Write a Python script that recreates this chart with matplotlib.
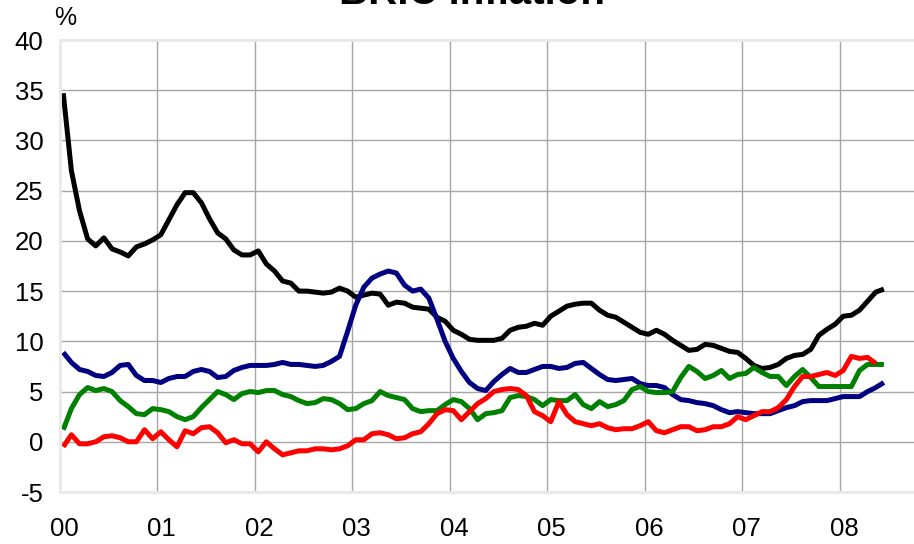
import matplotlib
matplotlib.use('Agg')
import numpy as np
import matplotlib.pyplot as plt

plt.rcParams['font.family'] = ['Liberation Sans', 'DejaVu Sans']
plt.rcParams['axes.unicode_minus'] = False

# monthly year-on-year CPI, Jan 2000 onwards
years = ['00', '01', '02', '03', '04', '05', '06', '07', '08']

russia = [34.7, 27.0, 23.0, 20.2, 19.5, 20.3, 19.2, 18.9, 18.5, 19.4,
          19.7, 20.1, 20.6, 22.1, 23.6, 24.8, 24.8, 23.8, 22.2, 20.8,
          20.2, 19.1, 18.6, 18.6, 19.0, 17.7, 17.0, 16.0, 15.8, 15.0,
          15.0, 14.9, 14.8, 14.9, 15.3, 15.0, 14.4, 14.6, 14.8, 14.7,
          13.6, 13.9, 13.8, 13.4, 13.3, 13.2, 12.4, 12.0, 11.1, 10.7,
          10.2, 10.1, 10.1, 10.1, 10.3, 11.1, 11.4, 11.5, 11.8, 11.6,
          12.5, 13.0, 13.5, 13.7, 13.8, 13.8, 13.1, 12.6, 12.4, 11.9,
          11.4, 10.9, 10.7, 11.1, 10.7, 10.1, 9.6, 9.1, 9.2, 9.7,
          9.6, 9.3, 9.0, 8.9, 8.3, 7.6, 7.3, 7.4, 7.7, 8.3,
          8.6, 8.7, 9.2, 10.6, 11.2, 11.7, 12.5, 12.6, 13.1, 14.0,
          14.9, 15.2]

brazil = [8.9, 7.9, 7.2, 7.0, 6.6, 6.5, 6.9, 7.6, 7.7, 6.6,
          6.1, 6.1, 5.9, 6.3, 6.5, 6.5, 7.0, 7.2, 7.0, 6.4,
          6.5, 7.1, 7.4, 7.6, 7.6, 7.6, 7.7, 7.9, 7.7, 7.7,
          7.6, 7.5, 7.6, 8.0, 8.5, 11.0, 13.6, 15.4, 16.3, 16.7,
          17.0, 16.8, 15.6, 15.0, 15.2, 14.3, 12.2, 10.0, 8.3, 7.0,
          5.9, 5.3, 5.1, 6.0, 6.7, 7.3, 6.9, 6.9, 7.2, 7.5,
          7.5, 7.3, 7.4, 7.8, 7.9, 7.3, 6.7, 6.2, 6.1, 6.2,
          6.3, 5.8, 5.6, 5.6, 5.4, 4.7, 4.2, 4.1, 3.9, 3.8,
          3.6, 3.2, 2.9, 3.0, 2.9, 2.8, 2.8, 2.8, 3.1, 3.4,
          3.6, 4.0, 4.1, 4.1, 4.1, 4.3, 4.5, 4.5, 4.5, 5.0,
          5.4, 5.9]

india = [1.2, 3.3, 4.7, 5.4, 5.1, 5.3, 5.0, 4.1, 3.5, 2.8,
         2.7, 3.3, 3.2, 3.0, 2.5, 2.2, 2.5, 3.4, 4.2, 5.0,
         4.7, 4.2, 4.8, 5.0, 4.9, 5.1, 5.1, 4.7, 4.5, 4.1,
         3.8, 3.9, 4.3, 4.2, 3.8, 3.2, 3.3, 3.8, 4.1, 5.0,
         4.6, 4.4, 4.2, 3.3, 3.0, 3.1, 3.1, 3.7, 4.2, 4.0,
         3.3, 2.2, 2.8, 2.9, 3.1, 4.4, 4.6, 4.5, 4.2, 3.6,
         4.2, 4.1, 4.1, 4.7, 3.7, 3.3, 4.0, 3.5, 3.7, 4.1,
         5.2, 5.5, 5.0, 4.9, 4.9, 5.0, 6.4, 7.5, 7.0, 6.3,
         6.6, 7.1, 6.3, 6.7, 6.8, 7.4, 6.9, 6.5, 6.5, 5.6,
         6.5, 7.2, 6.4, 5.5, 5.5, 5.5, 5.5, 5.5, 7.1, 7.7,
         7.7, 7.7]

china = [-0.5, 0.7, -0.2, -0.2, 0.0, 0.5, 0.6, 0.4, 0.0, 0.0,
         1.2, 0.3, 1.0, 0.2, -0.5, 1.1, 0.8, 1.4, 1.5, 0.9,
         -0.1, 0.2, -0.2, -0.2, -1.0, 0.0, -0.7, -1.3, -1.1, -0.9,
         -0.9, -0.7, -0.7, -0.8, -0.7, -0.4, 0.2, 0.2, 0.8, 0.9,
         0.7, 0.3, 0.4, 0.8, 1.0, 1.8, 2.8, 3.2, 3.1, 2.2,
         3.0, 3.8, 4.3, 5.0, 5.2, 5.3, 5.2, 4.6, 3.0, 2.6,
         2.0, 4.0, 2.7, 2.0, 1.8, 1.6, 1.8, 1.4, 1.2, 1.3,
         1.3, 1.6, 2.0, 1.1, 0.9, 1.2, 1.5, 1.5, 1.1, 1.2,
         1.5, 1.5, 1.8, 2.5, 2.2, 2.6, 3.0, 3.0, 3.4, 4.2,
         5.5, 6.5, 6.5, 6.7, 6.9, 6.6, 7.1, 8.5, 8.3, 8.4,
         7.8]


def months(series):
    # x in years since Jan 2000
    return (np.arange(len(series)) + 0.4) / 12


fig = plt.figure(figsize=(9.14, 5.44), dpi=100)
ax = fig.add_axes([60 / 914, 52 / 544, 854 / 914, 452 / 544])

for s, c in [(russia, 'black'), (brazil, '#000080'), (india, '#008000'), (china, '#ff0000')]:
    ax.plot(months(s), s, color=c, lw=3.6, solid_joinstyle='round', solid_capstyle='butt')

ax.set_xlim(0, 854 / 97.5)
ax.set_ylim(-5, 40)
ax.set_yticks(range(-5, 41, 5))
ax.set_xticks(range(len(years)))
ax.set_xticklabels(years)

ax.grid(True, color='#a6a6a6', lw=1)
ax.set_axisbelow(True)
# edge lines are drawn by the pale spines
ax.get_ygridlines()[0].set_visible(False)
ax.get_ygridlines()[-1].set_visible(False)
ax.get_xgridlines()[0].set_visible(False)

for side in ['left', 'bottom', 'top']:
    ax.spines[side].set_color('#e8e8e8')
    ax.spines[side].set_linewidth(2)
ax.spines['right'].set_visible(False)

ax.tick_params(axis='both', length=0, labelsize=18.5)
ax.tick_params(axis='y', pad=12)
ax.tick_params(axis='x', pad=18)
offset = matplotlib.transforms.ScaledTranslation(4 / 100, 0, fig.dpi_scale_trans)
for lbl in ax.get_xticklabels():
    lbl.set_transform(lbl.get_transform() + offset)

fig.text(65 / 914, 1 - 18 / 544, '%', ha='center', va='center', fontsize=18)
fig.text(472 / 914, 1 - 3.5 / 544, 'BRIC inflation', ha='center', va='baseline',
         fontsize=29, fontweight='bold')

fig.savefig('out.png', dpi=100)
